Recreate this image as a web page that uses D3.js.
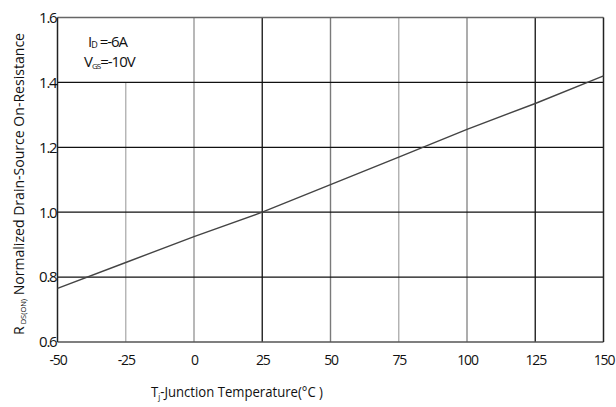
<!DOCTYPE html>
<html><head><meta charset="utf-8">
<script src="https://cdn.jsdelivr.net/npm/d3@7"></script>
<style>
body{margin:0;background:#fff;}
text{font-family:"Liberation Sans Narrow","Open Sans",Arial,sans-serif;fill:#111;}
</style></head>
<body><svg id="c" width="616" height="407"></svg>
<script>
const temps = [-50, -25, 0, 25, 50, 75, 100, 125, 150];
const rdsOn = [0.765, 0.845, 0.925, 1.0, 1.085, 1.17, 1.255, 1.335, 1.42];
const xTicks = [-50, -25, 0, 25, 50, 75, 100, 125, 150];
const yTicks = [0.6, 0.8, 1.0, 1.2, 1.4, 1.6];
const vGridColors = ["#b3b3b3", "#9a9a9a", "#222", "#7a7a7a", "#b0b0b0", "#8a8a8a", "#222"];

const svg = d3.select("#c");
const L = 57.5, R = 603.5, T = 17.5, B = 342;
const x = d3.scaleLinear().domain([-50, 150]).range([L, R]);
const y = d3.scaleLinear().domain([0.6, 1.6]).range([B, T]);

// vertical grid
xTicks.slice(1, -1).forEach((t, i) => {
  svg.append("line").attr("x1", x(t)).attr("x2", x(t))
    .attr("y1", t === -25 ? y(1.4) : y(1.6)).attr("y2", y(0.6))
    .attr("stroke", vGridColors[i]).attr("stroke-width", 1.4);
});
// horizontal grid
yTicks.slice(1, -1).forEach(t => {
  svg.append("line").attr("x1", x(-50)).attr("x2", x(150))
    .attr("y1", y(t)).attr("y2", y(t)).attr("stroke", "#111").attr("stroke-width", 1.2);
});
// frame
svg.append("line").attr("x1", L).attr("x2", R).attr("y1", T).attr("y2", T).attr("stroke", "#666").attr("stroke-width", 1.5);
svg.append("line").attr("x1", L).attr("x2", R).attr("y1", B).attr("y2", B).attr("stroke", "#555").attr("stroke-width", 1.5);
svg.append("line").attr("x1", L).attr("x2", L).attr("y1", T).attr("y2", B).attr("stroke", "#222").attr("stroke-width", 1.5);
svg.append("line").attr("x1", R).attr("x2", R).attr("y1", T).attr("y2", B).attr("stroke", "#222").attr("stroke-width", 1.5);

// data line
const data = temps.map((t, i) => [t, rdsOn[i]]);
svg.append("path").datum(data)
  .attr("d", d3.line().x(d => x(d[0])).y(d => y(d[1])))
  .attr("fill", "none").attr("stroke", "#444").attr("stroke-width", 1.4);

// axes (labels only)
const xAxis = d3.axisBottom(x).tickValues(xTicks).tickSize(0).tickPadding(13).tickFormat(d => String(d));
const gx = svg.append("g").attr("transform", `translate(0,${B})`).call(xAxis);
gx.select(".domain").remove();
gx.selectAll("text").attr("font-size", 14).attr("letter-spacing", "-1.2").attr("fill", "#111")
  .style("font-family", '"Liberation Sans Narrow","Open Sans",Arial,sans-serif');

const yAxis = d3.axisLeft(y).tickValues(yTicks).tickSize(0).tickPadding(1).tickFormat(d3.format(".1f"));
const gy = svg.append("g").attr("transform", `translate(${L},0)`).call(yAxis);
gy.select(".domain").remove();
gy.selectAll("text").attr("font-size", 15).attr("letter-spacing", "-1.2").attr("fill", "#1a1a2a")
  .style("font-family", '"Liberation Sans Narrow","Open Sans",Arial,sans-serif');

// axis titles
svg.append("text").attr("x", 237).attr("y", 397).attr("text-anchor", "middle")
  .attr("font-size", 15).attr("textLength", 172).attr("lengthAdjust", "spacingAndGlyphs")
  .html('T<tspan font-size="9" dy="3">j</tspan><tspan dy="-3">-Junction Temperature(°C )</tspan>');

svg.append("text").attr("transform", "translate(24,184) rotate(-90)").attr("text-anchor", "middle")
  .attr("font-size", 15).attr("textLength", 302).attr("lengthAdjust", "spacingAndGlyphs")
  .html('R<tspan font-size="8" dy="2"> DS(ON)</tspan><tspan dy="-2"> Normalized Drain-Source On-Resistance</tspan>');

// annotations
svg.append("text").attr("x", 88).attr("y", 47).attr("font-size", 15).attr("letter-spacing", "-1")
  .html('I<tspan font-size="9" dy="1">D</tspan><tspan dy="-1"> =-6A</tspan>');
svg.append("text").attr("x", 84).attr("y", 67).attr("font-size", 15).attr("letter-spacing", "-1")
  .html('V<tspan font-size="8" dy="2">GS</tspan><tspan dy="-2">=-10V</tspan>');
</script></body></html>
